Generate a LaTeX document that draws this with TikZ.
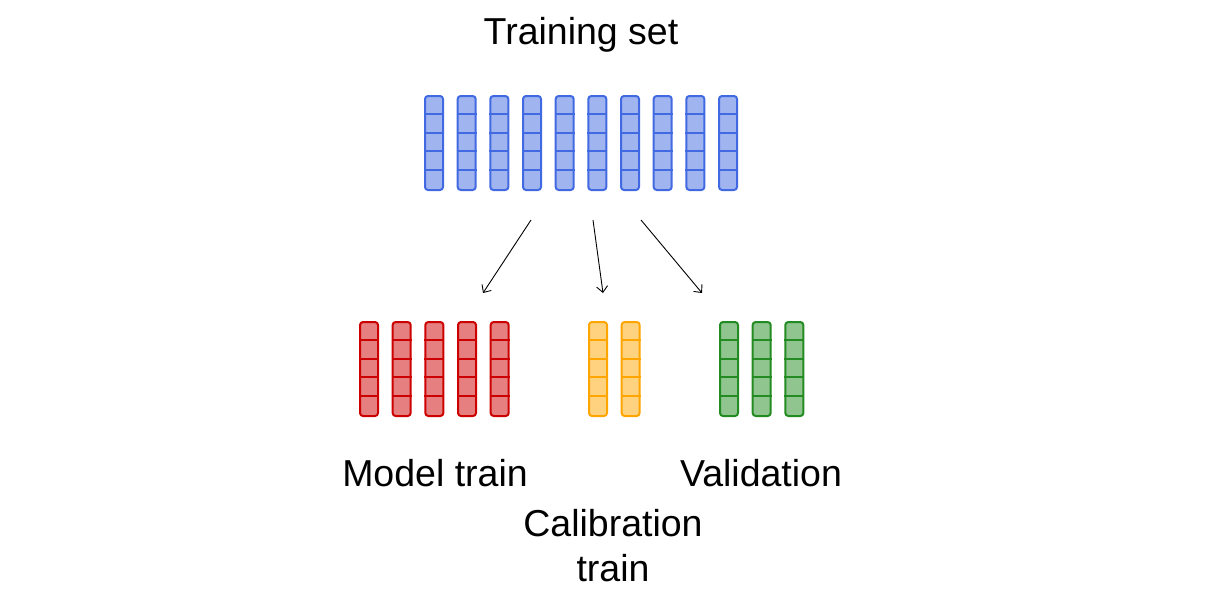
\documentclass[tikz,border=0pt]{standalone}
\usepackage{fontspec}
\setmainfont{Liberation Sans}
\usetikzlibrary{arrows.meta}

\definecolor{trainblue}{HTML}{4169E1}
\definecolor{modelred}{HTML}{CC0000}
\definecolor{calyellow}{HTML}{FFA500}
\definecolor{valgreen}{HTML}{228B22}

\tikzset{
  datacol/.style={draw=#1, fill=#1!50, line width=2pt, rounded corners=3pt,
    minimum width=18pt, minimum height=94pt, inner sep=0pt},
  setlabel/.style={font=\fontsize{37.5}{47}\selectfont, align=center, anchor=base, inner sep=0pt},
  splitarrow/.style={-{Straight Barb[length=6pt,width=11pt]}, line width=0.9pt}
}

% one column of five cells
\newcommand{\datacolumn}[4]{%
  \node[datacol=#4] (#1) at (#2,#3) {};
  \foreach \k in {1,...,4}
    \draw[#4, line width=2pt] ([yshift=-\k*18.8pt]#1.north west) -- ([yshift=-\k*18.8pt]#1.north east);
}

\begin{document}
\begin{tikzpicture}[x=1pt, y=-1pt]
\useasboundingbox (0,0) rectangle (1207,590);

    % Training set
    \foreach \i in {0,...,9}
      \datacolumn{tr\i}{434+32.67*\i}{143}{trainblue};
    \node[setlabel] (trainlbl) at (581,44) {Training set};

    % Model train
    \foreach \i in {0,...,4}
      \datacolumn{mt\i}{369+32.67*\i}{369}{modelred};
    \node[setlabel] (modellbl) at (435,486) {Model train};

    % Calibration train
    \foreach \i in {0,1}
      \datacolumn{ct\i}{598+32.67*\i}{369}{calyellow};
    \node[setlabel, font=\fontsize{37.5}{45}\selectfont, text depth=0pt] (callbl) at (613,581) {Calibration\\train};

    % Validation
    \foreach \i in {0,...,2}
      \datacolumn{va\i}{729+32.67*\i}{369}{valgreen};
    \node[setlabel] (vallbl) at (761,486) {Validation};

    % Arrow ends
    \coordinate (s1) at (531,220);
    \coordinate (s2) at (593,220);
    \coordinate (s3) at (641,220);
    \coordinate (e1) at (483,293);
    \coordinate (e2) at (603,293);
    \coordinate (e3) at (702,293);

    % Splits
    \draw[splitarrow] (s1) -- (e1);
    \draw[splitarrow] (s2) -- (e2);
    \draw[splitarrow] (s3) -- (e3);
\end{tikzpicture}
\end{document}
